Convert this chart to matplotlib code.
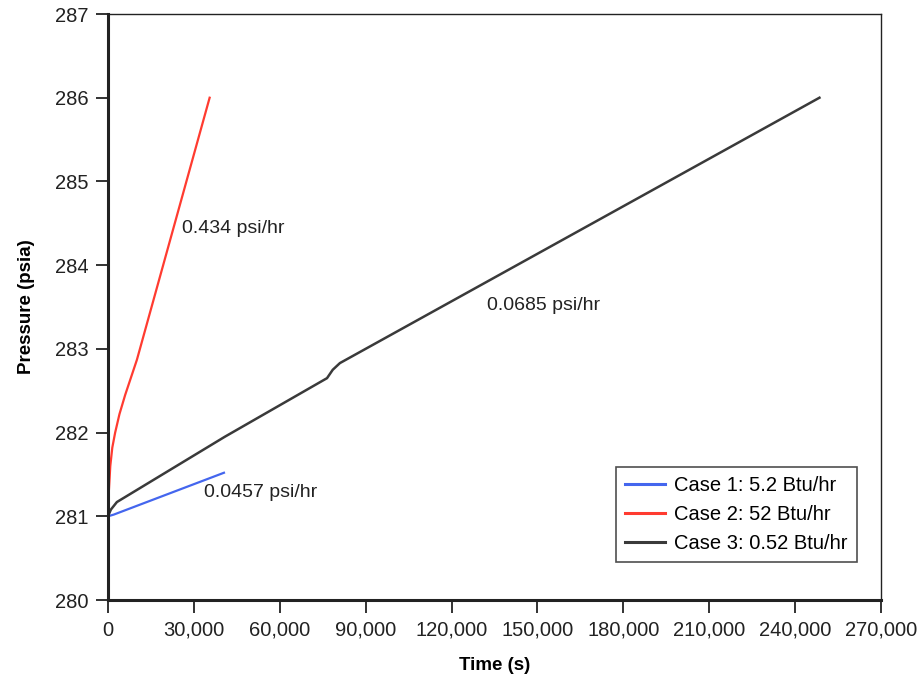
import matplotlib
matplotlib.use("Agg")
import matplotlib.pyplot as plt
from matplotlib.ticker import FuncFormatter

plt.rcParams["font.family"] = ["Liberation Sans", "DejaVu Sans"]

# Case 1: 5.2 Btu/hr
t_case1 = [0, 2000, 40500]
p_case1 = [281.0, 281.02, 281.52]

# Case 2: 52 Btu/hr
t_case2 = [0, 300, 800, 1500, 2500, 4000, 6000, 10100, 35500]
p_case2 = [281.0, 281.3, 281.6, 281.82, 282.0, 282.22, 282.45, 282.87, 286.0]

# Case 3: 0.52 Btu/hr
t_case3 = [0, 1000, 3100, 40800, 76500, 78500, 81000, 248500]
p_case3 = [281.0, 281.08, 281.17, 281.95, 282.65, 282.75, 282.83, 286.0]

labels = ["Case 1: 5.2 Btu/hr", "Case 2: 52 Btu/hr", "Case 3: 0.52 Btu/hr"]
rate_text = ["0.0457 psi/hr", "0.434 psi/hr", "0.0685 psi/hr"]
rate_pos = [(33500, 281.28), (25800, 284.44), (132300, 283.52)]

fig = plt.figure(figsize=(9.2, 6.8), dpi=100)
ax = fig.add_axes([108 / 920, 80 / 680, 773 / 920, 586 / 680])

ax.plot(t_case1, p_case1, color="#4466ee", lw=1.6, label=labels[0])
ax.plot(t_case2, p_case2, color="#ff3b30", lw=1.6, label=labels[1])
ax.plot(t_case3, p_case3, color="#3a3a3a", lw=1.8, label=labels[2])

for txt, (x, y) in zip(rate_text, rate_pos):
    ax.text(x, y, txt, fontsize=14, color="#222222", va="center", ha="left")

ax.set_xlim(0, 270000)
ax.set_ylim(280, 287)
ax.set_xticks(range(0, 270001, 30000))
ax.set_yticks(range(280, 288))
ax.xaxis.set_major_formatter(FuncFormatter(lambda v, p: f"{int(v):,}"))

ax.tick_params(direction="out", length=9, width=1.3, labelsize=14.5, colors="#222222")
ax.tick_params(axis="x", pad=6)
ax.tick_params(axis="y", pad=5)
for side in ["left", "bottom"]:
    ax.spines[side].set_linewidth(2.2)
    ax.spines[side].set_color("#222222")
for side in ["top", "right"]:
    ax.spines[side].set_linewidth(1.0)
    ax.spines[side].set_color("#222222")

ax.set_xlabel("Time (s)", fontsize=13.5, fontweight="bold", labelpad=12)
ax.set_ylabel("Pressure (psia)", fontsize=13.5, fontweight="bold", labelpad=14)

leg = ax.legend(loc="lower right", bbox_to_anchor=(0.969, 0.065), borderaxespad=0,
                fontsize=14.5, frameon=True, fancybox=False, edgecolor="#222222",
                handlelength=2.0, handletextpad=0.45, borderpad=0.45,
                labelspacing=0.5)
leg.get_frame().set_linewidth(1.2)
for line in leg.get_lines():
    line.set_linewidth(2.2)

fig.savefig("out.png", dpi=100)
